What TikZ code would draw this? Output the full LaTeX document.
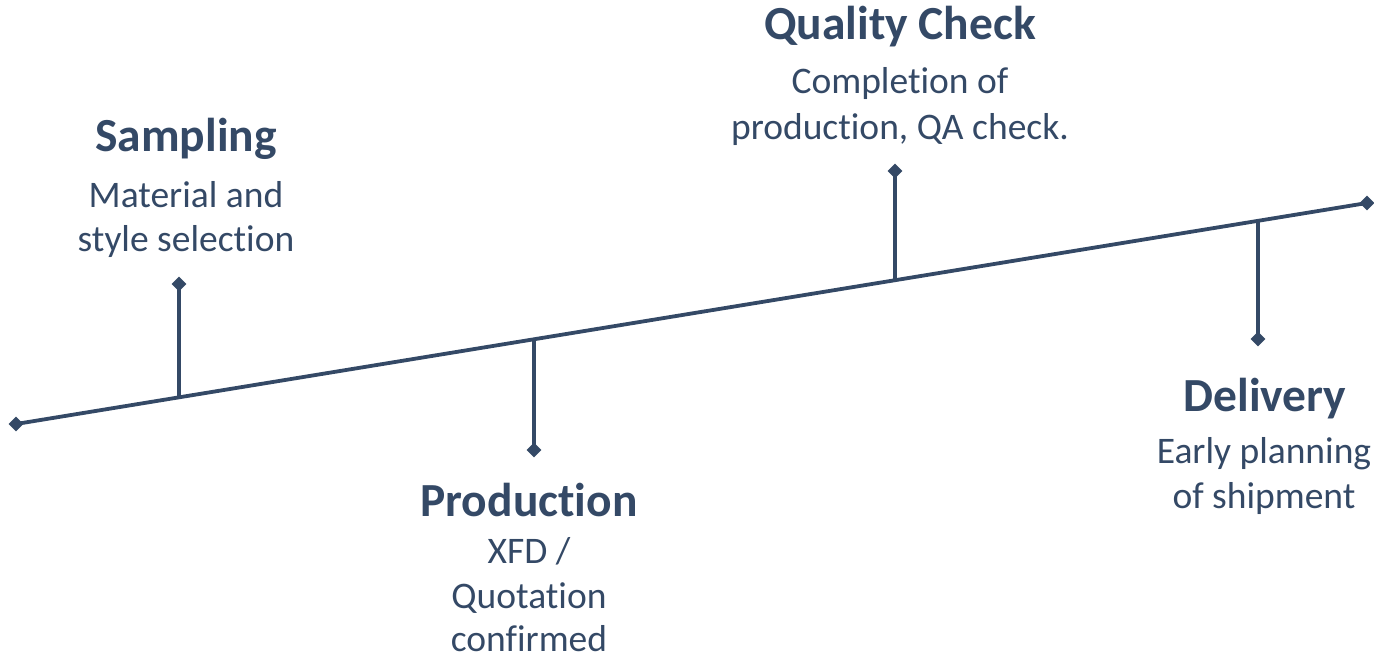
\documentclass[tikz,border=0pt]{standalone}
\usepackage{fontspec}
\setmainfont{Carlito}[Ligatures={NoCommon}]
\usetikzlibrary{shapes.geometric,calc}
\definecolor{ink}{RGB}{52,73,102}
\begin{document}
\begin{tikzpicture}[x=1pt,y=-1pt,
  pin/.style={diamond,fill=ink,inner sep=0pt,minimum size=15pt},
  link/.style={draw=ink,line width=3.8pt},
  ttl/.style={anchor=base,text=ink,inner sep=0pt,font=\fontsize{47.5}{54}\selectfont\bfseries},
  txt/.style={anchor=base,text=ink,inner sep=0pt,font=\fontsize{37.5}{45}\selectfont}]
\useasboundingbox (0,0) rectangle (1374,659);
% main line
\node[pin] (a) at (16,424) {};
\node[pin] (b) at (1367,203) {};
\draw[link] (a.center) -- (b.center);
% junctions
\coordinate (j1) at ($(a.center)!0.1207!(b.center)$);
\coordinate (j2) at ($(a.center)!0.3834!(b.center)$);
\coordinate (j3) at ($(a.center)!0.6506!(b.center)$);
\coordinate (j4) at ($(a.center)!0.9193!(b.center)$);
% stems
\node[pin] (d1) at (179,284) {};
\node[pin] (d2) at (534,450) {};
\node[pin] (d3) at (895,171) {};
\node[pin] (d4) at (1258,339) {};
\draw[link] (d1.center) -- (j1);
\draw[link] (d2.center) -- (j2);
\draw[link] (d3.center) -- (j3);
\draw[link] (d4.center) -- (j4);
% texts
\node[ttl] (t1) at (186,151) {Sampling};
\node[txt] (t1a) at (186,207) {Material and};
\node[txt] (t1b) at (186,251) {style selection};
\node[ttl] (t2) at (529,516) {Production};
\node[txt] (t2a) at (529,563) {XFD /};
\node[txt] (t2b) at (529,608) {Quotation};
\node[txt] (t2c) at (529,651) {confirmed};
\node[ttl] (t3) at (900,39) {Quality Check};
\node[txt] (t3a) at (900,93) {Completion of};
\node[txt] (t3b) at (900,139) {production, QA check.};
\node[ttl] (t4) at (1265,411) {Delivery};
\node[txt] (t4a) at (1264,463) {Early planning};
\node[txt] (t4b) at (1264,508) {of shipment};
\end{tikzpicture}
\end{document}
